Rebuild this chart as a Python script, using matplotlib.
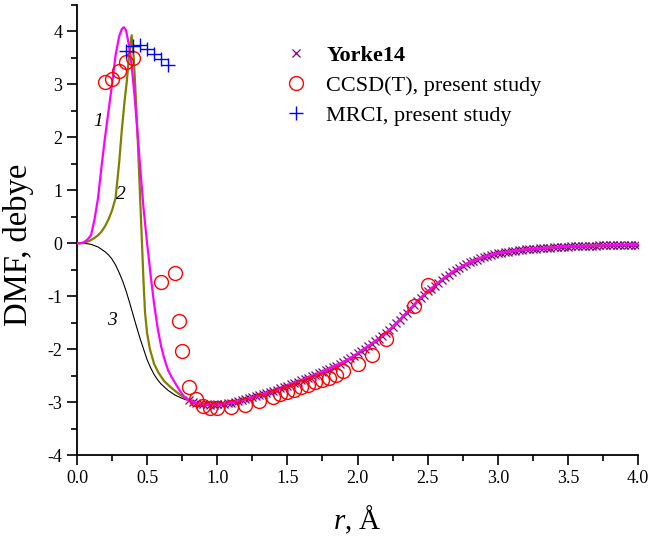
"""
Dipole moment function (DMF) vs internuclear distance
"""
import matplotlib

matplotlib.use("Agg")
import matplotlib.pyplot as plt
import numpy as np
from matplotlib.ticker import FormatStrFormatter, MultipleLocator

# Yorke14 reference curve (r from 0.80 to 4.00 in steps of 0.025 A)
yorke_dmf = [
    -2.97, -3.00, -3.02, -3.03, -3.04, -3.045, -3.05, -3.05,
    -3.045, -3.04, -3.03, -3.02, -3.01, -2.995, -2.98, -2.965,
    -2.95, -2.93, -2.91, -2.89, -2.87, -2.85, -2.83, -2.81,
    -2.79, -2.765, -2.74, -2.715, -2.69, -2.665, -2.64, -2.615,
    -2.59, -2.565, -2.54, -2.515, -2.49, -2.46, -2.43, -2.40,
    -2.37, -2.34, -2.31, -2.28, -2.245, -2.21, -2.17, -2.125,
    -2.08, -2.035, -1.99, -1.945, -1.90, -1.85, -1.80, -1.75,
    -1.70, -1.64, -1.58, -1.515, -1.45, -1.38, -1.31, -1.24,
    -1.17, -1.10, -1.035, -0.97, -0.91, -0.855, -0.80, -0.745,
    -0.69, -0.64, -0.595, -0.545, -0.50, -0.465, -0.43, -0.395,
    -0.36, -0.335, -0.31, -0.285, -0.26, -0.24, -0.22, -0.205,
    -0.19, -0.178, -0.167, -0.157, -0.148, -0.14, -0.132, -0.125,
    -0.118, -0.112, -0.106, -0.10, -0.095, -0.09, -0.085, -0.081,
    -0.077, -0.073, -0.069, -0.066, -0.063, -0.06, -0.057, -0.054,
    -0.052, -0.05, -0.047, -0.045, -0.043, -0.041, -0.039, -0.037,
    -0.035, -0.034, -0.032, -0.031, -0.03, -0.029, -0.028, -0.027,
    -0.026,
]
yorke_r = np.linspace(0.8, 4.0, len(yorke_dmf))

# short-range parts of the three model curves (they join Yorke14 at r = 0.8)
curve1_r = [0.0, 0.025, 0.05, 0.075, 0.1, 0.125, 0.15, 0.175, 0.2, 0.225, 0.25, 0.275, 0.3, 0.32,
            0.335, 0.35, 0.37, 0.39, 0.41, 0.43, 0.45, 0.475, 0.5, 0.525, 0.55, 0.575, 0.6, 0.625,
            0.65, 0.675, 0.7, 0.725, 0.75, 0.775]
curve1_dmf = [0.0, 0.0, 0.02, 0.07, 0.15, 0.45, 0.85, 1.45, 2.0, 2.5, 3.0, 3.55, 3.9, 4.05,
              4.08, 4.02, 3.75, 3.35, 2.8, 2.15, 1.45, 0.65, 0.0, -0.6, -1.15, -1.6, -1.95, -2.2,
              -2.4, -2.53, -2.64, -2.75, -2.85, -2.93]

curve2_r = [0.0, 0.025, 0.05, 0.075, 0.1, 0.125, 0.15, 0.175, 0.2, 0.225, 0.25, 0.275, 0.3, 0.32,
            0.34, 0.355, 0.37, 0.39, 0.405, 0.42, 0.435, 0.445, 0.455, 0.466, 0.475, 0.485, 0.5,
            0.52, 0.55, 0.58, 0.62, 0.66, 0.7, 0.75, 0.775]
curve2_dmf = [0.0, 0.0, 0.01, 0.03, 0.06, 0.1, 0.15, 0.22, 0.32, 0.45, 0.62, 0.85, 1.5, 2.15,
              2.7, 3.05, 3.5, 3.93, 3.5, 2.72, 1.85, 1.2, 0.55, -0.2, -0.75, -1.3, -1.7,
              -2.0, -2.28, -2.44, -2.6, -2.7, -2.79, -2.89, -2.93]

curve3_r = [0.0, 0.05, 0.1, 0.15, 0.2, 0.225, 0.25, 0.275, 0.3, 0.325, 0.35, 0.375, 0.4, 0.425,
            0.45, 0.475, 0.5, 0.525, 0.55, 0.575, 0.6, 0.65, 0.7, 0.75, 0.775]
curve3_dmf = [0.0, 0.0, -0.02, -0.07, -0.16, -0.22, -0.3, -0.41, -0.55, -0.71, -0.9, -1.12, -1.35, -1.58,
              -1.8, -2.0, -2.2, -2.35, -2.48, -2.58, -2.66, -2.78, -2.87, -2.93, -2.955]

# CCSD(T), present study
ccsd_r = [0.2, 0.25, 0.3, 0.35, 0.4, 0.6, 0.7, 0.725, 0.75, 0.8, 0.85, 0.9, 0.95, 1.0, 1.1, 1.2, 1.3,
          1.4, 1.45, 1.5, 1.55, 1.6, 1.65, 1.7, 1.75, 1.8, 1.85, 1.9, 2.0, 2.1, 2.2, 2.4, 2.5]
ccsd_dmf = [3.05, 3.1, 3.25, 3.42, 3.49, -0.74, -0.57, -1.47, -2.04, -2.72, -2.94, -3.08, -3.12, -3.12, -3.09,
            -3.05, -2.98, -2.9, -2.85, -2.81, -2.77, -2.72, -2.67, -2.63, -2.58, -2.54, -2.49, -2.42,
            -2.29, -2.12, -1.8, -1.18, -0.78]

# MRCI, present study
mrci_r = [0.35, 0.4, 0.45, 0.5, 0.55, 0.6, 0.65]
mrci_dmf = [3.64, 3.73, 3.75, 3.66, 3.57, 3.48, 3.37]

plt.rcParams["font.family"] = ["Liberation Serif", "DejaVu Serif"]
plt.rcParams["mathtext.fontset"] = "custom"
plt.rcParams["mathtext.it"] = "Liberation Serif:italic"
plt.rcParams["mathtext.rm"] = "Liberation Serif"
plt.rcParams["axes.unicode_minus"] = False

fig = plt.figure(figsize=(6.49, 5.40), dpi=100)
axes = fig.add_axes([0.1186, 0.1574, 0.8645, 0.8333])

axes.plot(yorke_r, yorke_dmf, "x", color="#800080", markersize=5.5, markeredgewidth=0.9,
          label="Yorke14", zorder=2)
axes.plot(np.r_[curve3_r, yorke_r], np.r_[curve3_dmf, yorke_dmf], color="black", lw=0.8, zorder=3)
axes.plot(np.r_[curve2_r, yorke_r], np.r_[curve2_dmf, yorke_dmf], color="#808000", lw=1.6, zorder=3)
axes.plot(np.r_[curve1_r, yorke_r], np.r_[curve1_dmf, yorke_dmf], color="#ff00ff", lw=1.6, zorder=4)
axes.plot(ccsd_r, ccsd_dmf, "o", mfc="none", mec="#ff0000", markersize=10, markeredgewidth=1.0,
          label="CCSD(T), present study", zorder=5)
axes.plot(mrci_r, mrci_dmf, "+", color="#0000ff", markersize=10, markeredgewidth=1.0,
          label="MRCI, present study", zorder=5)

# curve numbers
for txt, xpos, ypos in (("1", 0.15, 2.3), ("2", 0.31, 0.93), ("3", 0.25, -1.45)):
    axes.text(xpos, ypos, txt, fontsize=14, style="italic", ha="center", va="center")

axes.set_xlim(0, 4.0)
axes.set_ylim(-4, 4.5)
axes.xaxis.set_major_locator(MultipleLocator(0.5))
axes.xaxis.set_minor_locator(MultipleLocator(0.25))
axes.yaxis.set_minor_locator(MultipleLocator(0.5))
axes.set_yticks(np.arange(-4, 5, 1))
axes.xaxis.set_major_formatter(FormatStrFormatter("%.1f"))
axes.tick_params(which="major", direction="out", length=7, width=1.2, labelsize=13)
axes.tick_params(which="minor", direction="out", length=4.5, width=1.2)
for side in ("top", "right"):
    axes.spines[side].set_visible(False)
for side in ("left", "bottom"):
    axes.spines[side].set_linewidth(1.3)

axes.set_xlabel(r"$r$, Å", fontsize=21, labelpad=12)
axes.set_ylabel("DMF, debye", fontsize=23.5)
axes.yaxis.set_label_coords(-0.077, 0.467)

leg = axes.legend(loc="upper left", bbox_to_anchor=(0.354, 0.93), frameon=False, fontsize=16,
                  handlelength=1.0, handletextpad=0.88, labelspacing=0.42, borderaxespad=0)
leg.get_texts()[0].set_fontweight("bold")

fig.savefig("out.png", dpi=100)
